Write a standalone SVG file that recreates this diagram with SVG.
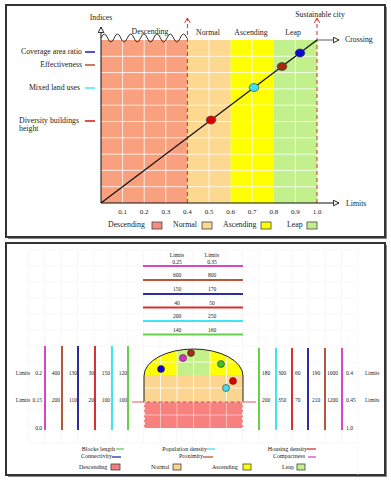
<svg xmlns="http://www.w3.org/2000/svg" width="391" height="480" viewBox="0 0 391 480">
<style>
  text { font-family: "Liberation Serif", "Times New Roman", serif; fill: #222; }
  .lbl { font-size: 7.8px; }
  .tick { font-size: 7px; text-anchor: middle; }
  .sm { font-size: 5.5px; }
  .lg { font-size: 6px; }
  .grid { stroke: #fff; stroke-width: 0.8; }
  .bgrid { stroke: #eeeeee; stroke-width: 0.5; }
  .red-dash { stroke: #d42a2a; stroke-width: 1; stroke-dasharray: 4 3; fill: none; }
  .axis { stroke: #111; stroke-width: 1; fill: none; }
  .box { stroke: #444; stroke-width: 0.8; }
  .bar { stroke-width: 2; }
  .dot { stroke: #333; stroke-width: 0.6; }
</style>
<defs>
  <marker id="hollow" viewBox="0 0 10 10" refX="9" refY="5" markerWidth="7" markerHeight="7" orient="auto" markerUnits="userSpaceOnUse">
    <path d="M1,1 L9,5 L1,9 Z" fill="#fff" stroke="#111" stroke-width="1.3"/>
  </marker>
  <marker id="redopen" viewBox="0 0 10 10" refX="9" refY="5" markerWidth="7" markerHeight="7" orient="auto" markerUnits="userSpaceOnUse">
    <path d="M2,1 L9,5 L2,9" fill="none" stroke="#d42a2a" stroke-width="1.3"/>
  </marker>
  <clipPath id="domeclip">
    <path d="M144,402 L144,376 A49.5,27 0 0 1 243,376 L243,402 Z"/>
  </clipPath>
</defs>

<!-- ===== TOP PANEL ===== -->
<g id="top-frame">
  <rect x="8" y="7" width="379" height="232" fill="#888"/>
  <rect x="6" y="5" width="379" height="232" fill="#fff" stroke="#333" stroke-width="2"/>
</g>

<g id="top-regions">
  <rect x="101" y="40" width="86.4" height="163" fill="#f9a07e"/>
  <rect x="187.4" y="40" width="43.2" height="163" fill="#fdd890"/>
  <rect x="230.6" y="40" width="43.2" height="163" fill="#ffff00"/>
  <rect x="273.8" y="40" width="43.2" height="163" fill="#c2f08c"/>
</g>
<g id="top-grid" class="grid">
  <line x1="122.6" y1="40" x2="122.6" y2="203"/>
  <line x1="144.2" y1="40" x2="144.2" y2="203"/>
  <line x1="165.8" y1="40" x2="165.8" y2="203"/>
  <line x1="209" y1="40" x2="209" y2="203"/>
  <line x1="252.2" y1="40" x2="252.2" y2="203"/>
  <line x1="295.4" y1="40" x2="295.4" y2="203"/>
  <line x1="101" y1="56.3" x2="317" y2="56.3"/>
  <line x1="101" y1="72.6" x2="317" y2="72.6"/>
  <line x1="101" y1="88.9" x2="317" y2="88.9"/>
  <line x1="101" y1="105.2" x2="317" y2="105.2"/>
  <line x1="101" y1="121.5" x2="317" y2="121.5"/>
  <line x1="101" y1="137.8" x2="317" y2="137.8"/>
  <line x1="101" y1="154.1" x2="317" y2="154.1"/>
  <line x1="101" y1="170.4" x2="317" y2="170.4"/>
  <line x1="101" y1="186.7" x2="317" y2="186.7"/>
</g>

<g id="top-connectors">
  <line class="red-dash" x1="187.4" y1="203" x2="187.4" y2="18" marker-end="url(#redopen)"/>
  <line class="red-dash" x1="317" y1="203" x2="317" y2="18" marker-end="url(#redopen)"/>
  <line class="axis" x1="101" y1="203" x2="101" y2="27" marker-end="url(#hollow)"/>
  <line class="axis" x1="101" y1="203" x2="339" y2="203" marker-end="url(#hollow)"/>
  <line x1="317" y1="40" x2="339" y2="40" stroke="#777" stroke-width="1.2" marker-end="url(#hollow)"/>
  <path d="M101,38 q3.3,-8 6.6,0 t6.6,0 t6.6,0 t6.6,0 t6.6,0 t6.6,0 t6.6,0 t6.6,0 t6.6,0 t6.6,0 t6.6,0 t6.6,0 t6.6,0" fill="none" stroke="#222" stroke-width="0.9"/>
  <line x1="101" y1="203" x2="317" y2="40" stroke="#111" stroke-width="1.2"/>
</g>

<g id="top-points">
  <ellipse class="dot" cx="211" cy="120" rx="4.8" ry="4" fill="#e00000"/>
  <ellipse class="dot" cx="254" cy="87.5" rx="4.8" ry="4" fill="#40e0f0"/>
  <ellipse class="dot" cx="282" cy="66.5" rx="4.8" ry="4" fill="#a62a14"/>
  <ellipse class="dot" cx="300" cy="53" rx="4.8" ry="4" fill="#0a0ad0"/>
</g>

<g id="top-labels">
  <text class="lbl" x="101" y="20" text-anchor="middle">Indices</text>
  <text class="lbl" x="320" y="17" text-anchor="middle">Sustainable city</text>
  <text class="lbl" x="150" y="34" text-anchor="middle">Descending</text>
  <text class="lbl" x="208" y="35" text-anchor="middle">Normal</text>
  <text class="lbl" x="251" y="35" text-anchor="middle">Ascending</text>
  <text class="lbl" x="293" y="35" text-anchor="middle">Leap</text>
  <text class="lbl" x="345" y="42">Crossing</text>
  <text class="lbl" x="346" y="206">Limits</text>
  <text class="tick" x="122.6" y="214">0.1</text>
  <text class="tick" x="144.2" y="214">0.2</text>
  <text class="tick" x="165.8" y="214">0.3</text>
  <text class="tick" x="187.4" y="214">0.4</text>
  <text class="tick" x="209" y="214">0.5</text>
  <text class="tick" x="230.6" y="214">0.6</text>
  <text class="tick" x="252.2" y="214">0.7</text>
  <text class="tick" x="273.8" y="214">0.8</text>
  <text class="tick" x="295.4" y="214">0.9</text>
  <text class="tick" x="317" y="214">1.0</text>
</g>

<g id="top-indicators">
  <text class="lbl" x="82" y="54" text-anchor="end">Coverage area ratio</text>
  <line x1="85" y1="52" x2="95" y2="52" stroke="#1a1ac8" stroke-width="1.5"/>
  <text class="lbl" x="82" y="67" text-anchor="end">Effectiveness</text>
  <line x1="85" y1="65" x2="95" y2="65" stroke="#b8502a" stroke-width="1.5"/>
  <text class="lbl" x="80" y="90" text-anchor="end">Mixed  land uses</text>
  <line x1="85" y1="88" x2="95" y2="88" stroke="#40e8f0" stroke-width="1.5"/>
  <text class="lbl" x="19" y="123">Diversity buildings</text>
  <text class="lbl" x="19" y="131">height</text>
  <line x1="85" y1="121" x2="95" y2="121" stroke="#e01010" stroke-width="1.5"/>
</g>

<g id="top-legend">
  <text class="lbl" x="108" y="227">Descending</text>
  <rect class="box" x="152" y="222" width="10" height="7" fill="#f88c80"/>
  <text class="lbl" x="173" y="227">Normal</text>
  <rect class="box" x="202" y="222" width="10" height="7" fill="#fdd890"/>
  <text class="lbl" x="223" y="227">Ascending</text>
  <rect class="box" x="261" y="222" width="10" height="7" fill="#ffff00"/>
  <text class="lbl" x="287" y="227">Leap</text>
  <rect class="box" x="307" y="222" width="10" height="7" fill="#c2f08c"/>
</g>

<!-- ===== BOTTOM PANEL ===== -->
<g id="bottom-frame">
  <rect x="8" y="245" width="379" height="232" fill="#888"/>
  <rect x="6" y="243" width="379" height="232" fill="#fff" stroke="#333" stroke-width="2"/>
</g>
<g id="bottom-grid" class="bgrid">
  <line x1="28" y1="250" x2="28" y2="443"/>
  <line x1="44.5" y1="250" x2="44.5" y2="443"/>
  <line x1="61" y1="250" x2="61" y2="443"/>
  <line x1="77.5" y1="250" x2="77.5" y2="443"/>
  <line x1="94" y1="250" x2="94" y2="443"/>
  <line x1="110.5" y1="250" x2="110.5" y2="443"/>
  <line x1="127" y1="250" x2="127" y2="443"/>
  <line x1="143.5" y1="250" x2="143.5" y2="443"/>
  <line x1="160" y1="250" x2="160" y2="443"/>
  <line x1="176.5" y1="250" x2="176.5" y2="443"/>
  <line x1="193" y1="250" x2="193" y2="443"/>
  <line x1="209.5" y1="250" x2="209.5" y2="443"/>
  <line x1="226" y1="250" x2="226" y2="443"/>
  <line x1="242.5" y1="250" x2="242.5" y2="443"/>
  <line x1="259" y1="250" x2="259" y2="443"/>
  <line x1="275.5" y1="250" x2="275.5" y2="443"/>
  <line x1="292" y1="250" x2="292" y2="443"/>
  <line x1="308.5" y1="250" x2="308.5" y2="443"/>
  <line x1="325" y1="250" x2="325" y2="443"/>
  <line x1="341.5" y1="250" x2="341.5" y2="443"/>
  <line x1="358" y1="250" x2="358" y2="475"/>
  <line x1="28" y1="250" x2="358" y2="250"/>
  <line x1="28" y1="266" x2="358" y2="266"/>
  <line x1="28" y1="282" x2="358" y2="282"/>
  <line x1="28" y1="298" x2="358" y2="298"/>
  <line x1="28" y1="314" x2="358" y2="314"/>
  <line x1="28" y1="330" x2="358" y2="330"/>
  <line x1="28" y1="346" x2="358" y2="346"/>
  <line x1="28" y1="362" x2="358" y2="362"/>
  <line x1="28" y1="378" x2="358" y2="378"/>
  <line x1="28" y1="394" x2="358" y2="394"/>
  <line x1="28" y1="410" x2="358" y2="410"/>
  <line x1="28" y1="426" x2="358" y2="426"/>
  <line x1="28" y1="443" x2="358" y2="443"/>
</g>

<g id="limits-bars">
  <text class="sm" x="177" y="257" text-anchor="middle">Limits</text>
  <text class="sm" x="212" y="257" text-anchor="middle">Limits</text>
  <text class="sm" x="177" y="264" text-anchor="middle">0.25</text>
  <text class="sm" x="212" y="264" text-anchor="middle">0.35</text>
  <line class="bar" x1="143" y1="266" x2="243" y2="266" stroke="#d846c8"/>
  <text class="sm" x="177" y="277" text-anchor="middle">600</text>
  <text class="sm" x="212" y="277" text-anchor="middle">800</text>
  <line class="bar" x1="143" y1="280" x2="243" y2="280" stroke="#b5583a"/>
  <text class="sm" x="177" y="291" text-anchor="middle">150</text>
  <text class="sm" x="212" y="291" text-anchor="middle">170</text>
  <line class="bar" x1="143" y1="294" x2="243" y2="294" stroke="#2c2ea0"/>
  <text class="sm" x="177" y="305" text-anchor="middle">40</text>
  <text class="sm" x="212" y="305" text-anchor="middle">50</text>
  <line class="bar" x1="143" y1="307.5" x2="243" y2="307.5" stroke="#d83030"/>
  <text class="sm" x="177" y="318" text-anchor="middle">200</text>
  <text class="sm" x="212" y="318" text-anchor="middle">250</text>
  <line class="bar" x1="143" y1="321" x2="243" y2="321" stroke="#40e6ee"/>
  <text class="sm" x="177" y="332" text-anchor="middle">140</text>
  <text class="sm" x="212" y="332" text-anchor="middle">160</text>
  <line class="bar" x1="143" y1="334.5" x2="243" y2="334.5" stroke="#66d04a"/>
</g>

<g id="left-bars">
  <line class="bar" x1="45" y1="346" x2="45" y2="430" stroke="#d846c8"/>
  <line class="bar" x1="62" y1="346" x2="62" y2="430" stroke="#b5583a"/>
  <line class="bar" x1="78" y1="346" x2="78" y2="430" stroke="#2c2ea0"/>
  <line class="bar" x1="95" y1="346" x2="95" y2="430" stroke="#d83030"/>
  <line class="bar" x1="112" y1="346" x2="112" y2="430" stroke="#40e6ee"/>
  <line class="bar" x1="128" y1="346" x2="128" y2="430" stroke="#66d04a"/>
  <text class="sm" x="23" y="375" text-anchor="middle">Limits</text>
  <text class="sm" x="42" y="375" text-anchor="end">0.2</text>
  <text class="sm" x="60" y="375" text-anchor="end">400</text>
  <text class="sm" x="77" y="375" text-anchor="end">130</text>
  <text class="sm" x="94" y="375" text-anchor="end">30</text>
  <text class="sm" x="110" y="375" text-anchor="end">150</text>
  <text class="sm" x="127" y="375" text-anchor="end">120</text>
  <text class="sm" x="23" y="402" text-anchor="middle">Limits</text>
  <text class="sm" x="42" y="402" text-anchor="end">0.15</text>
  <text class="sm" x="60" y="402" text-anchor="end">200</text>
  <text class="sm" x="77" y="402" text-anchor="end">110</text>
  <text class="sm" x="94" y="402" text-anchor="end">20</text>
  <text class="sm" x="110" y="402" text-anchor="end">100</text>
  <text class="sm" x="127" y="402" text-anchor="end">100</text>
  <text class="sm" x="42" y="430" text-anchor="end">0.0</text>
</g>

<g id="right-bars">
  <line class="bar" x1="259" y1="348" x2="259" y2="430" stroke="#66d04a"/>
  <line class="bar" x1="276" y1="348" x2="276" y2="430" stroke="#40e6ee"/>
  <line class="bar" x1="292" y1="348" x2="292" y2="430" stroke="#d83030"/>
  <line class="bar" x1="308" y1="348" x2="308" y2="430" stroke="#2c2ea0"/>
  <line class="bar" x1="325" y1="348" x2="325" y2="430" stroke="#b5583a"/>
  <line class="bar" x1="342" y1="348" x2="342" y2="430" stroke="#d846c8"/>
  <text class="sm" x="262" y="375">180</text>
  <text class="sm" x="278" y="375">300</text>
  <text class="sm" x="295" y="375">60</text>
  <text class="sm" x="312" y="375">190</text>
  <text class="sm" x="327" y="375">1000</text>
  <text class="sm" x="346" y="375">0.4</text>
  <text class="sm" x="365" y="375">Limits</text>
  <text class="sm" x="262" y="402">200</text>
  <text class="sm" x="278" y="402">350</text>
  <text class="sm" x="295" y="402">70</text>
  <text class="sm" x="312" y="402">210</text>
  <text class="sm" x="327" y="402">1200</text>
  <text class="sm" x="346" y="402">0.45</text>
  <text class="sm" x="365" y="402">Limits</text>
  <text class="sm" x="346" y="430">1.0</text>
</g>

<g id="dome">
  <rect x="144" y="402" width="99" height="26" fill="#f7817e"/>
  <g clip-path="url(#domeclip)">
    <rect x="144" y="375" width="99" height="27" fill="#fcd690"/>
    <rect x="144" y="345" width="33" height="30" fill="#ffff00"/>
    <rect x="177" y="345" width="33" height="30" fill="#c3f08a"/>
    <rect x="210" y="345" width="33" height="30" fill="#ffff00"/>
    <g class="grid">
      <line x1="160.5" y1="345" x2="160.5" y2="402"/>
      <line x1="177" y1="345" x2="177" y2="402"/>
      <line x1="193.5" y1="345" x2="193.5" y2="402"/>
      <line x1="210" y1="345" x2="210" y2="402"/>
      <line x1="226.5" y1="345" x2="226.5" y2="402"/>
      <line x1="144" y1="362" x2="243" y2="362"/>
      <line x1="144" y1="388" x2="243" y2="388"/>
    </g>
  </g>
  <g stroke="#fff" stroke-width="0.6" opacity="0.8">
    <line x1="160.5" y1="402" x2="160.5" y2="428"/>
    <line x1="177" y1="402" x2="177" y2="428"/>
    <line x1="193.5" y1="402" x2="193.5" y2="428"/>
    <line x1="210" y1="402" x2="210" y2="428"/>
    <line x1="226.5" y1="402" x2="226.5" y2="428"/>
    <line x1="144" y1="415" x2="243" y2="415"/>
  </g>
  <g stroke="#fff" stroke-width="0.8" stroke-dasharray="3 2">
    <line x1="144.5" y1="402" x2="144.5" y2="428"/>
    <line x1="242.5" y1="402" x2="242.5" y2="428"/>
  </g>
  <path d="M144,402 L144,376 A49.5,27 0 0 1 243,376 L243,402" fill="none" stroke="#222" stroke-width="1"/>
  <line x1="132" y1="402" x2="256" y2="402" stroke="#d83030" stroke-width="0.8"/>
  <line x1="144" y1="402" x2="243" y2="402" stroke="#fff" stroke-width="0.8" stroke-dasharray="3 3"/>
  <circle class="dot" cx="161" cy="369" r="3.5" fill="#0a0ad0"/>
  <circle class="dot" cx="183" cy="358" r="3.5" fill="#d830c8"/>
  <circle class="dot" cx="191" cy="353" r="3.5" fill="#a62a14"/>
  <circle class="dot" cx="221" cy="364" r="3.5" fill="#40c020"/>
  <circle class="dot" cx="233" cy="381" r="3.5" fill="#e00000"/>
  <circle class="dot" cx="226" cy="388" r="3.5" fill="#40e0f0"/>
</g>

<g id="bottom-legend">
  <text class="lg" x="115" y="451" text-anchor="end">Blocks length</text>
  <line x1="116" y1="449" x2="124" y2="449" stroke="#66d04a" stroke-width="1.3"/>
  <text class="lg" x="112" y="458" text-anchor="end">Connectivity</text>
  <line x1="112" y1="457" x2="121" y2="457" stroke="#2c2ea0" stroke-width="1.3"/>
  <text class="lg" x="207" y="451" text-anchor="end">Population density</text>
  <line x1="207" y1="449" x2="215" y2="449" stroke="#40e6ee" stroke-width="1.3"/>
  <text class="lg" x="203" y="458" text-anchor="end">Proximity</text>
  <line x1="203" y1="457" x2="213" y2="457" stroke="#b5583a" stroke-width="1.3"/>
  <text class="lg" x="307" y="451" text-anchor="end">Housing density</text>
  <line x1="307" y1="449" x2="316" y2="449" stroke="#d83030" stroke-width="1.3"/>
  <text class="lg" x="305" y="458" text-anchor="end">Compactness</text>
  <line x1="308" y1="457" x2="316" y2="457" stroke="#d846c8" stroke-width="1.3"/>
  <text class="lg" x="79" y="469">Descending</text>
  <rect class="box" x="111" y="464" width="9" height="6" fill="#f47c7c"/>
  <text class="lg" x="151" y="469">Normal</text>
  <rect class="box" x="173" y="464" width="8" height="6" fill="#fbd48c"/>
  <text class="lg" x="212" y="469">Ascending</text>
  <rect class="box" x="243" y="464" width="8" height="6" fill="#ffff00"/>
  <text class="lg" x="282" y="469">Leap</text>
  <rect class="box" x="297" y="464" width="8" height="6" fill="#c3f08a"/>
</g>
</svg>
